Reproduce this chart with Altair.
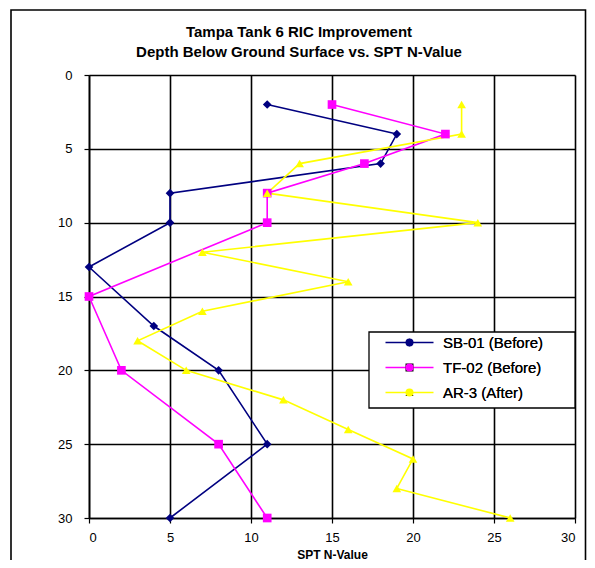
import altair as alt
import pandas as pd

title_lines = ["Tampa Tank 6 RIC Improvement", "Depth Below Ground Surface vs. SPT N-Value"]
x_title = "SPT N-Value"
series_names = ["SB-01 (Before)", "TF-02 (Before)", "AR-3 (After)"]
series_colors = ["#000080", "#FF00FF", "#FFFF00"]
series_shapes = ["diamond", "square", "triangle-up"]

sb01_depth = [2, 4, 6, 8, 10, 13, 17, 20, 25, 30]
sb01_n = [11, 19, 18, 5, 5, 0, 4, 8, 11, 5]
tf02_depth = [2, 4, 6, 8, 10, 15, 20, 25, 30]
tf02_n = [15, 22, 17, 11, 11, 0, 2, 8, 11]
ar3_depth = [2, 4, 6, 8, 10, 12, 14, 16, 18, 20, 22, 24, 26, 28, 30]
ar3_n = [23, 23, 13, 11, 24, 7, 16, 7, 3, 6, 12, 16, 20, 19, 26]

axis_ticks = [0, 5, 10, 15, 20, 25, 30]

rows = []
for name, depths, ns in zip(series_names, [sb01_depth, tf02_depth, ar3_depth], [sb01_n, tf02_n, ar3_n]):
    for i, (d, n) in enumerate(zip(depths, ns)):
        rows.append({"series": name, "depth": d, "n": n, "idx": i})
df = pd.DataFrame(rows)

FONT = "Liberation Sans"

x = alt.X("n:Q", scale=alt.Scale(domain=[0, 30], nice=False, zero=False),
          axis=alt.Axis(values=axis_ticks, title=x_title, grid=True, gridColor="black", gridWidth=1.6,
                        domainColor="black", domainWidth=1.6, tickColor="black", tickSize=5, tickWidth=1.2,
                        labelFont=FONT, labelFontSize=13, labelPadding=8, labelColor="black",
                        titleFont=FONT, titleFontSize=12, titleFontWeight="bold", titlePadding=5,
                        titleColor="black"))
y = alt.Y("depth:Q", scale=alt.Scale(domain=[0, 30], nice=False, zero=False, reverse=True),
          axis=alt.Axis(values=axis_ticks, title=None, grid=True, gridColor="black", gridWidth=1.6,
                        domainColor="black", domainWidth=1.6, tickColor="black", tickSize=5, tickWidth=1.2,
                        labelFont=FONT, labelFontSize=13, labelPadding=12, labelColor="black"))

color_scale = alt.Scale(domain=series_names, range=series_colors)
shape_scale = alt.Scale(domain=series_names, range=series_shapes)

legend_common = dict(orient="none", legendX=289, legendY=260, title=None, labelFont=FONT,
                     labelFontSize=15, labelColor="black", padding=0, rowPadding=9,
                     symbolSize=64, symbolOffset=24, labelOffset=26, labelLimit=300)

lines = alt.Chart(df).mark_line(strokeWidth=1.6).encode(
    x=x, y=y,
    color=alt.Color("series:N", scale=color_scale, sort=series_names,
                    legend=alt.Legend(symbolType="M-6,0L6,0", symbolStrokeWidth=1.6,
                                      labelOpacity=0, zindex=1, **legend_common)),
    order="idx:Q",
    detail="series:N",
)

point_legend = alt.Legend(symbolStrokeWidth=0, zindex=2, **legend_common)
points = alt.Chart(df).mark_point(filled=True, opacity=1, size=75).encode(
    x=x, y=y,
    color=alt.Color("series:N", scale=color_scale, sort=series_names, legend=point_legend),
    shape=alt.Shape("series:N", scale=shape_scale, sort=series_names, legend=point_legend),
)

frame = alt.Chart(alt.Data(values=[{}])).mark_rect(filled=False, stroke="black", strokeWidth=1.6).encode(
    x=alt.value(-78), x2=alt.value(496.5), y=alt.value(-65), y2=alt.value(495)
)

legend_box = alt.Chart(alt.Data(values=[{}])).mark_rect(fill="white", stroke="black", strokeWidth=1.3).encode(
    x=alt.value(280), x2=alt.value(486), y=alt.value(257), y2=alt.value(333)
)

chart = alt.layer(frame, legend_box, lines, points).resolve_legend(color="independent").properties(
    width=486, height=443,
    title=alt.TitleParams(title_lines, font=FONT, fontSize=15, fontWeight="bold", color="black",
                          anchor="middle", dx=-33, offset=-50.5, lineHeight=20),
    autosize=alt.AutoSizeParams(type="none"),
    padding={"left": 81, "top": 67, "right": 12, "bottom": 42},
).configure_view(stroke="#808080", strokeWidth=1.6).configure(background="white")

chart.save("out.html", embed_options={"renderer": "svg", "actions": False})
